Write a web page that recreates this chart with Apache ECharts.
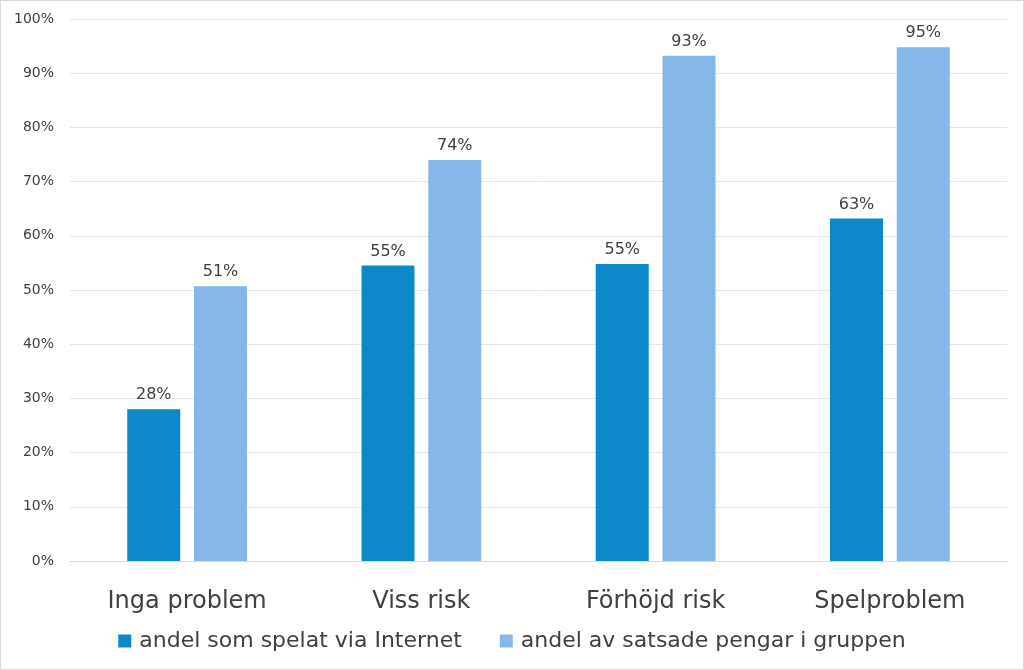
<!DOCTYPE html>
<html><head><meta charset="utf-8">
<script src="https://cdn.jsdelivr.net/npm/echarts@6/dist/echarts.min.js"></script>
<style>html,body{margin:0;padding:0;background:#fff}#c{width:1024px;height:670px;box-sizing:border-box;border:1px solid #d9d9d9}</style>
</head><body><div id="c"></div>
<script>
const categories = ['Inga problem', 'Viss risk', 'Förhöjd risk', 'Spelproblem'];
const seriesNames = ['andel som spelat via Internet', 'andel av satsade pengar i gruppen'];
const internetShare = [28.0, 54.5, 54.8, 63.2];
const moneyShare = [50.7, 74.0, 93.2, 94.8];
const yTicks = [0, 10, 20, 30, 40, 50, 60, 70, 80, 90, 100];

const font = '"DejaVu Sans", sans-serif';
const chart = echarts.init(document.getElementById('c'));
const labelOpt = {show: true, position: 'top', distance: 6, color: '#404040', fontSize: 16, fontFamily: font,
  formatter: p => Math.round(p.value) + '%'};
chart.setOption({
  animation: false,
  grid: {left: 69, right: 16, top: 18, bottom: 108, containLabel: false},
  legend: {bottom: 12, left: 'center', itemWidth: 13, itemHeight: 13, itemGap: 38, icon: 'rect',
    textStyle: {fontSize: 22, color: '#404040', fontFamily: font, padding: [0, 0, 0, 3]}, data: seriesNames},
  xAxis: {type: 'category', data: categories, axisTick: {show: false},
    axisLine: {lineStyle: {color: '#d9d9d9'}},
    axisLabel: {fontSize: 24, color: '#404040', margin: 29, fontFamily: font}},
  yAxis: {type: 'value', min: yTicks[0], max: yTicks[yTicks.length - 1], interval: 10,
    axisLabel: {formatter: '{value}%', fontSize: 14, color: '#404040', margin: 16, fontFamily: font},
    splitLine: {lineStyle: {color: '#e6e6e6'}}, axisLine: {show: false}, axisTick: {show: false}},
  series: [
    {name: seriesNames[0], type: 'bar', data: internetShare, barWidth: 53, barGap: '26%',
      itemStyle: {color: '#0a88c8'}, label: labelOpt},
    {name: seriesNames[1], type: 'bar', data: moneyShare, barWidth: 53,
      itemStyle: {color: '#85b8e8'}, label: labelOpt}
  ]
});
</script></body></html>
